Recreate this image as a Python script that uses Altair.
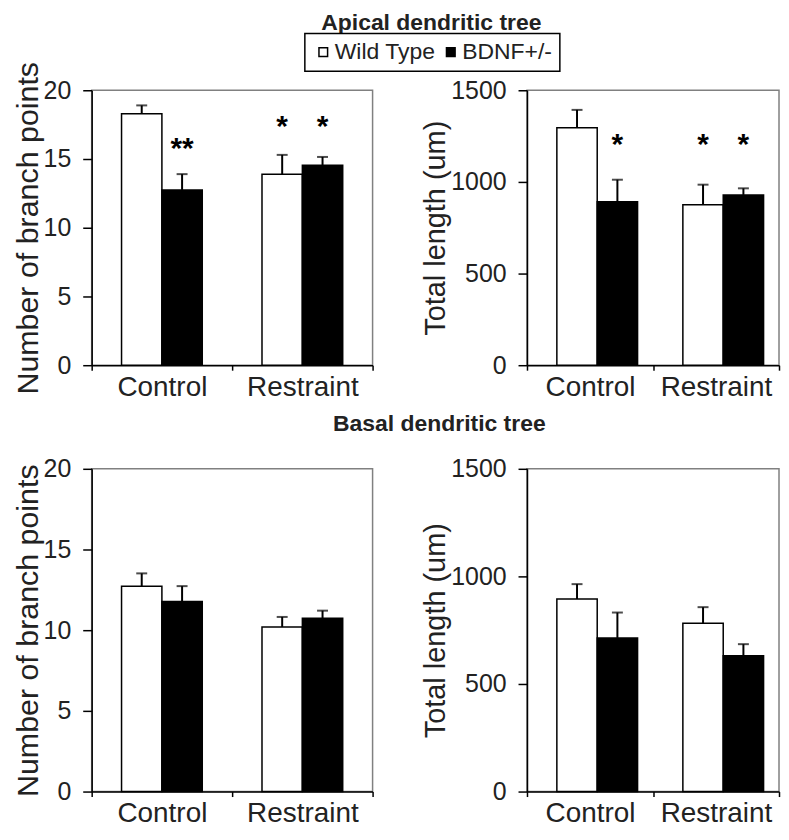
import altair as alt
import pandas as pd

# ---------------- data ----------------
conditions = ["Control", "Restraint"]
genotypes = ["Wild Type", "BDNF+/-"]

# order of bars: Control-WT, Control-BDNF, Restraint-WT, Restraint-BDNF
bar_cond = ["Control", "Control", "Restraint", "Restraint"]
bar_geno = ["Wild Type", "BDNF+/-", "Wild Type", "BDNF+/-"]

apical_branch_mean = [18.3, 12.75, 13.9, 14.55]
apical_branch_sem = [0.6, 1.15, 1.4, 0.6]
apical_branch_stars = ["", "**", "*", "*"]
apical_branch_star_y = [0, 16.0, 17.6, 17.6]

apical_length_mean = [1296, 892, 876, 929]
apical_length_sem = [97, 120, 109, 36]
apical_length_stars = ["", "*", "*", "*"]
apical_length_star_y = [0, 1224, 1224, 1224]

basal_branch_mean = [12.72, 11.78, 10.2, 10.74]
basal_branch_sem = [0.8, 0.95, 0.62, 0.47]

basal_length_mean = [895, 714, 782, 631]
basal_length_sem = [69, 118, 75, 54]

branch_ticks = [0, 5, 10, 15, 20]
length_ticks = [0, 500, 1000, 1500]

FONT = "Liberation Sans"
TXT = "#222222"


def panel(mean, sem, ymax, yticks, ytitle, tsize, w, h, po,
          stars=None, star_y=None, title=None):
    df = pd.DataFrame({
        "cond": bar_cond,
        "geno": bar_geno,
        "mean": mean,
        "top": [m + s for m, s in zip(mean, sem)],
    })
    x = alt.X("cond:N", sort=conditions,
              scale=alt.Scale(paddingInner=0, paddingOuter=0),
              axis=alt.Axis(title=None, labelAngle=0, tickBand="extent", tickSize=5,
                            labelFontSize=28, labelPadding=3, labelColor=TXT,
                            domainColor="black", domainWidth=1.5,
                            tickColor="black", tickWidth=1.5, labelFont=FONT))
    xo = alt.XOffset("geno:N", sort=genotypes,
                     scale=alt.Scale(paddingInner=0, paddingOuter=po))
    yscale = alt.Scale(domain=[0, ymax], nice=False)
    y = alt.Y("mean:Q", scale=yscale,
              axis=alt.Axis(values=yticks, format="d", title=ytitle, grid=False,
                            tickSize=9, labelFontSize=25, labelPadding=12,
                            labelColor=TXT, titleFontSize=tsize,
                            titleFontWeight="normal", titleColor=TXT,
                            titlePadding=0, domainColor="black", domainWidth=1.5,
                            tickColor="black", tickWidth=1.5, labelFont=FONT,
                            titleFont=FONT))
    base = alt.Chart(df)
    bars = base.mark_bar(stroke="black", strokeWidth=1.5).encode(
        x=x, xOffset=xo, y=y,
        fill=alt.Fill("geno:N", sort=genotypes,
                      scale=alt.Scale(domain=genotypes, range=["white", "black"]),
                      legend=alt.Legend(title=None)),
    )
    err = base.mark_rule(color="black", strokeWidth=2).encode(
        x=x, xOffset=xo, y=alt.Y("mean:Q", scale=yscale), y2="top:Q")
    cap = base.mark_tick(color="black", thickness=2, size=11).encode(
        x=x, xOffset=xo, y=alt.Y("top:Q", scale=yscale))
    layers = [bars, err, cap]
    if stars is not None:
        sdf = pd.DataFrame({"cond": bar_cond, "geno": bar_geno,
                            "star": stars, "sy": star_y})
        sdf = sdf[sdf["star"] != ""]
        txt = alt.Chart(sdf).mark_text(fontSize=30, fontWeight="bold", font=FONT,
                                       baseline="middle", dy=4, color="black").encode(
            x=x, xOffset=xo, y=alt.Y("sy:Q", scale=yscale), text="star:N")
        layers.append(txt)
    ch = alt.layer(*layers).properties(width=w, height=h)
    if title is not None:
        ch = ch.properties(title=title)
    return ch


t_apical = alt.TitleParams("Apical dendritic tree", anchor="middle", frame="group",
                           dx=200, offset=27, fontSize=23, fontWeight="bold",
                           font=FONT, color=TXT)
t_basal = alt.TitleParams("Basal dendritic tree", anchor="middle", frame="group",
                          dx=208, offset=21, fontSize=23, fontWeight="bold",
                          font=FONT, color=TXT)

p1 = panel(apical_branch_mean, apical_branch_sem, 20, branch_ticks,
           "Number of branch points", 30.5, 282, 276, 0.74,
           apical_branch_stars, apical_branch_star_y, t_apical)
p2 = panel(apical_length_mean, apical_length_sem, 1500, length_ticks,
           "Total length (um)", 29, 253, 276, 0.70,
           apical_length_stars, apical_length_star_y)
p3 = panel(basal_branch_mean, basal_branch_sem, 20, branch_ticks,
           "Number of branch points", 30.5, 282, 324, 0.77, title=t_basal)
p4 = panel(basal_length_mean, basal_length_sem, 1500, length_ticks,
           "Total length (um)", 29, 253, 324, 0.80)

chart = alt.concat(p1, p2, p3, p4, columns=2,
                   spacing=alt.RowColnumber(row=104, column=155)).properties(
    align="each", bounds="flush",
    padding={"left": 4, "top": 1, "right": 0, "bottom": 0},
).configure_view(
    stroke="#808080", strokeWidth=1.5
).configure_legend(
    orient="none", legendX=214, legendY=-57, direction="horizontal",
    strokeColor="black", strokeWidth=1.5, padding=7, fillColor="white",
    symbolType="square", symbolSize=75, symbolStrokeColor="black",
    symbolStrokeWidth=1.5, labelFontSize=23, labelFont=FONT, labelColor=TXT,
    columnPadding=4, labelOffset=0,
)

chart.save("out.html", embed_options={"renderer": "svg", "actions": False})
